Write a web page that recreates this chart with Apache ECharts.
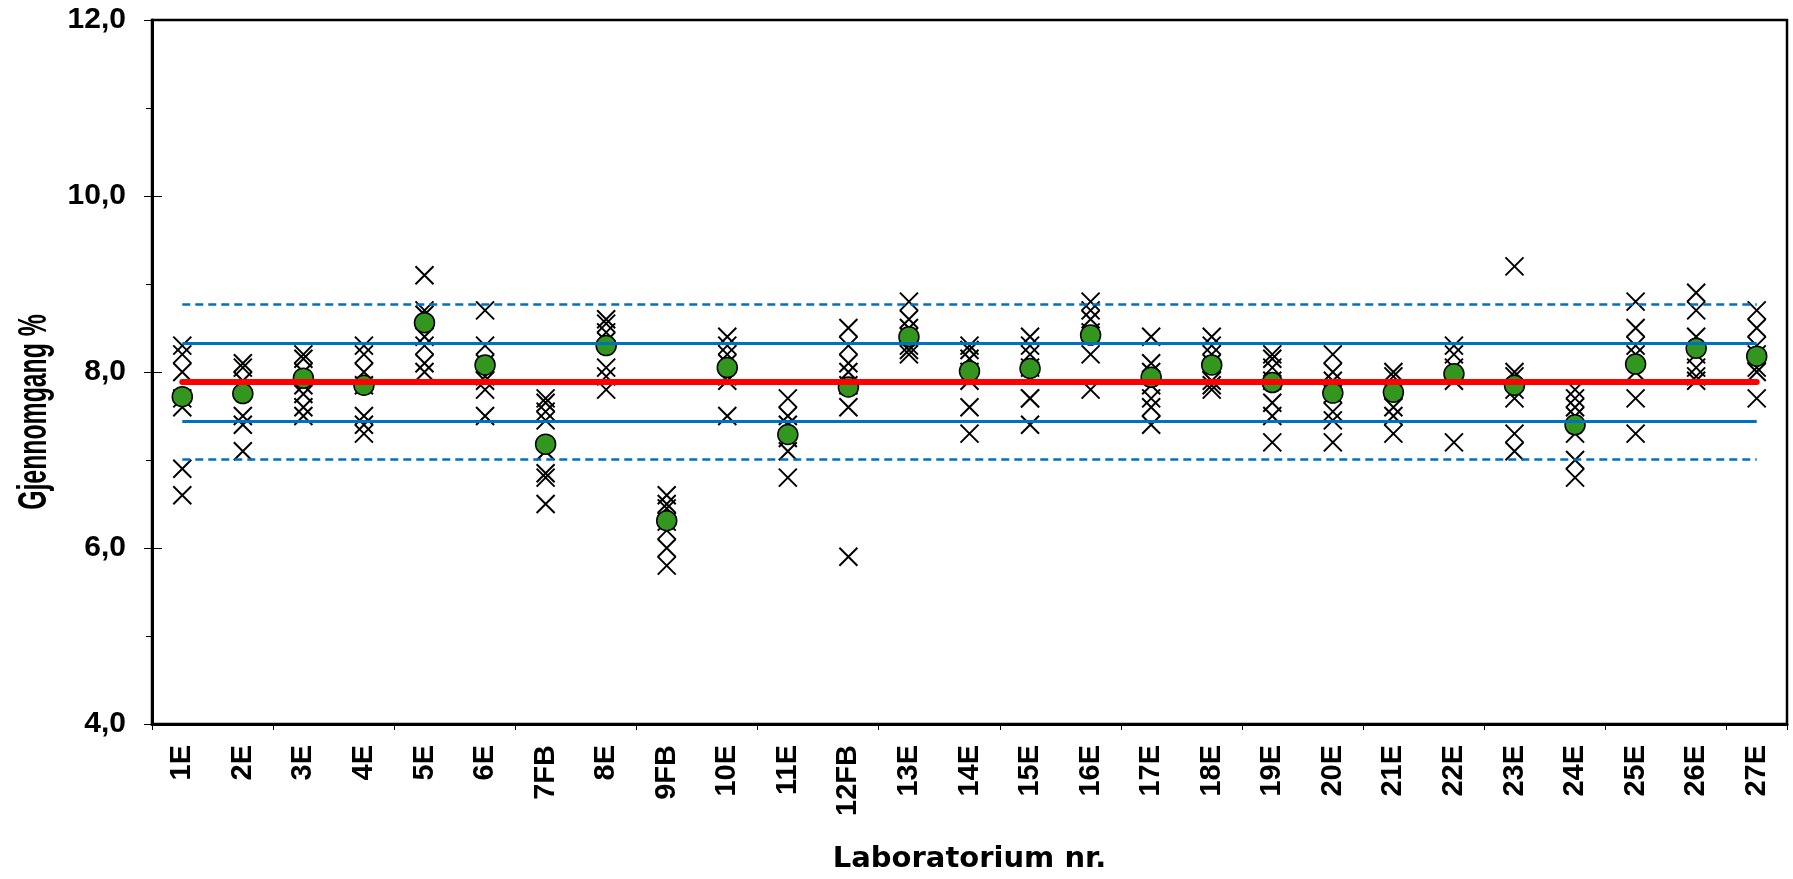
<!DOCTYPE html>
<html>
<head>
<meta charset="utf-8">
<script src="https://cdn.jsdelivr.net/npm/echarts@6/dist/echarts.min.js"></script>
<style>
html,body{margin:0;padding:0;background:#fff;}
#chart{width:1793px;height:879px;}
</style>
</head>
<body>
<div id="chart"></div>
<script>
const labs = ['1E','2E','3E','4E','5E','6E','7FB','8E','9FB','10E','11E','12FB','13E','14E','15E','16E','17E','18E','19E','20E','21E','22E','23E','24E','25E','26E','27E'];

// individual results per laboratory (crosses)
const replicates = [
  [8.3, 8.2, 8.0, 7.7, 7.6, 6.9, 6.6],
  [8.1, 8.05, 7.9, 7.8, 7.5, 7.4, 7.1],
  [8.2, 8.15, 8.0, 7.85, 7.75, 7.6, 7.5],
  [8.3, 8.2, 8.0, 7.85, 7.5, 7.4, 7.3],
  [9.1, 8.7, 8.65, 8.4, 8.3, 8.1, 8.0],
  [8.7, 8.3, 8.1, 7.95, 7.9, 7.8, 7.5],
  [7.7, 7.65, 7.55, 7.45, 7.1, 6.85, 6.8, 6.5],
  [8.6, 8.55, 8.45, 8.35, 8.05, 7.95, 7.8],
  [6.6, 6.5, 6.45, 6.3, 6.2, 6.0, 5.8],
  [8.4, 8.3, 8.2, 8.1, 7.95, 7.9, 7.5],
  [7.7, 7.5, 7.4, 7.25, 7.1, 6.8],
  [8.5, 8.3, 8.1, 8.0, 7.85, 7.6, 5.9],
  [8.8, 8.6, 8.5, 8.4, 8.3, 8.25, 8.2],
  [8.3, 8.25, 8.15, 8.0, 7.9, 7.6, 7.3],
  [8.4, 8.3, 8.2, 8.05, 7.7, 7.7, 7.4],
  [8.8, 8.7, 8.6, 8.45, 8.2, 7.8],
  [8.4, 8.1, 8.0, 7.85, 7.7, 7.6, 7.4],
  [8.4, 8.3, 8.2, 8.1, 7.9, 7.85, 7.8],
  [8.2, 8.15, 8.05, 7.9, 7.65, 7.5, 7.2],
  [8.2, 8.0, 7.9, 7.75, 7.55, 7.45, 7.2],
  [8.0, 7.95, 7.8, 7.6, 7.5, 7.3],
  [8.3, 8.2, 8.05, 7.9, 7.2],
  [9.2, 8.0, 7.95, 7.8, 7.7, 7.3, 7.1],
  [7.8, 7.7, 7.6, 7.5, 7.3, 7.0, 6.8],
  [8.8, 8.5, 8.3, 8.2, 8.0, 7.7, 7.3],
  [8.9, 8.7, 8.4, 8.2, 8.05, 7.95, 7.9],
  [8.7, 8.5, 8.3, 8.2, 8.05, 8.0, 7.7]
];

// laboratory means (green dots)
const labMeans = [7.72, 7.755, 7.93, 7.85, 8.56, 8.08, 7.18, 8.30, 6.31, 8.05, 7.29, 7.83, 8.40, 8.01, 8.04, 8.42, 7.94, 8.08, 7.88, 7.76, 7.77, 7.98, 7.85, 7.40, 8.09, 8.27, 8.18];

// reference lines
const grandMean = 7.885;
const innerLimits = [7.445, 8.325];
const outerLimits = [7.005, 8.765];

const yTicks = {min: 4, max: 12, interval: 2};

const crossData = [];
replicates.forEach((vals, i) => vals.forEach(v => crossData.push([labs[i], v])));
const meanData = labs.map((l, i) => [l, labMeans[i]]);

const first = labs[0], last = labs[labs.length - 1];
const hline = v => [{coord: [first, v]}, {coord: [last, v]}];

const fmt = v => v.toFixed(1).replace('.', ',');

const chart = echarts.init(document.getElementById('chart'));
chart.setOption({
  animation: false,
  backgroundColor: '#ffffff',
  grid: {left: 152, right: 6, top: 20, bottom: 152, show: true, borderColor: '#000', borderWidth: 2.5, backgroundColor: 'transparent'},
  xAxis: {
    type: 'category',
    data: labs,
    boundaryGap: true,
    name: 'Laboratorium nr.',
    nameLocation: 'middle',
    nameGap: 121,
    nameTextStyle: {fontFamily: 'DejaVu Sans', fontWeight: 'bold', fontSize: 29, color: '#000'},
    axisLine: {lineStyle: {color: '#000', width: 3}},
    axisTick: {show: true, interval: (i) => i % 2 === 0, length: 6, lineStyle: {color: '#000', width: 1}},
    axisLabel: {rotate: 90, interval: 0, margin: 21, fontFamily: 'Liberation Sans', fontWeight: 'bold', fontSize: 29, color: '#000'},
    splitLine: {show: false}
  },
  yAxis: [{
    type: 'value',
    min: yTicks.min, max: yTicks.max, interval: yTicks.interval,
    axisLine: {show: true, lineStyle: {color: '#000', width: 3}},
    axisTick: {show: true, length: 8, lineStyle: {color: '#000', width: 1}},
    minorTick: {show: true, splitNumber: 2, length: 6, lineStyle: {color: '#000', width: 1}},
    axisLabel: {margin: 26, fontFamily: 'Liberation Sans', fontWeight: 'bold', fontSize: 30, color: '#000', formatter: fmt},
    splitLine: {show: false}
  }, {
    type: 'value', position: 'left',
    min: yTicks.min, max: yTicks.max, interval: yTicks.interval,
    axisLine: {show: false},
    axisTick: {show: true, inside: true, length: 10, lineStyle: {color: '#000', width: 1}},
    axisLabel: {show: false},
    splitLine: {show: false}
  }],
  graphic: [{
    type: 'text', x: 35, y: 412, rotation: Math.PI / 2, scaleX: 0.62, scaleY: 1,
    style: {text: 'Gjennomgang %', fontFamily: 'Liberation Sans', fontWeight: 'bold', fontSize: 40, fill: '#000', align: 'center', verticalAlign: 'middle'}
  }],
  series: [
    {
      type: 'line', data: [], z: 1, silent: true,
      markLine: {silent: true, symbol: 'none', label: {show: false},
        data: [hline(outerLimits[0]), hline(outerLimits[1])],
        lineStyle: {color: '#0070c0', width: 2.5, type: [8, 5]}}
    },
    {
      type: 'line', data: [], z: 1, silent: true,
      markLine: {silent: true, symbol: 'none', label: {show: false},
        data: [hline(innerLimits[0]), hline(innerLimits[1])],
        lineStyle: {color: '#0070c0', width: 3, type: 'solid'}}
    },
    {
      type: 'line', data: [], z: 1, silent: true,
      markLine: {silent: true, symbol: 'none', label: {show: false},
        data: [hline(grandMean)],
        lineStyle: {color: '#ff0000', width: 6, type: 'solid', cap: 'round'}}
    },
    {
      type: 'scatter', data: crossData, z: 3,
      symbol: 'path://M0,0L10,10M10,0L0,10', symbolSize: 18,
      itemStyle: {color: 'rgba(0,0,0,0)', borderColor: '#000', borderWidth: 2, opacity: 1}
    },
    {
      type: 'scatter', data: meanData, z: 4,
      symbol: 'circle', symbolSize: 20,
      itemStyle: {color: '#33961f', borderColor: '#000', borderWidth: 1.5, opacity: 1}
    }
  ]
});
</script>
</body>
</html>
